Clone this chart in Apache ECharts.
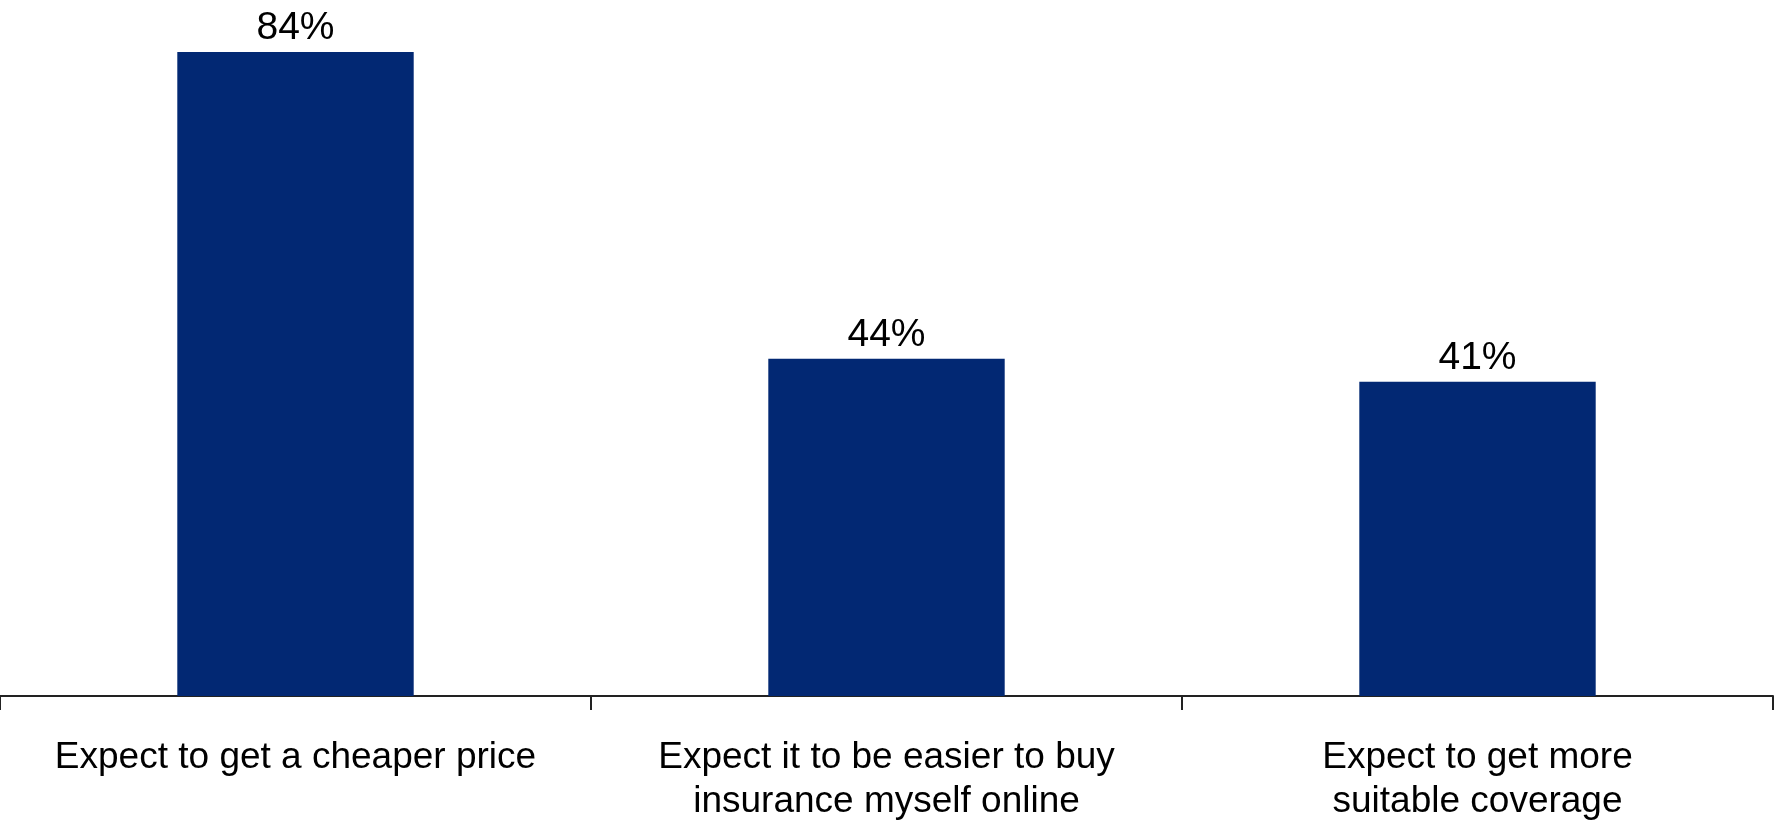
<!DOCTYPE html>
<html>
<head>
<meta charset="utf-8">
<script src="https://cdn.jsdelivr.net/npm/echarts@6/dist/echarts.min.js"></script>
<style>
  html, body { margin: 0; padding: 0; background: #fff; }
  #chart { width: 1775px; height: 822px; }
</style>
</head>
<body>
<div id="chart"></div>
<script>
// reasons for buying insurance online - share of respondents
const categories = [
  'Expect to get a cheaper price',
  'Expect it to be easier to buy\ninsurance myself online',
  'Expect to get more\nsuitable coverage'
];
const values = [84, 44, 41];

const myChart = echarts.init(document.getElementById('chart'));

const option = {
  animation: false,
  textStyle: { fontFamily: 'Liberation Sans, Arial, sans-serif' },
  grid: {
    left: 0,
    right: 2,
    top: 6,
    bottom: 126,
    containLabel: false,
    outerBoundsMode: 'none'
  },
  xAxis: {
    type: 'category',
    data: categories,
    axisLine: { lineStyle: { color: '#222', width: 2 } },
    axisTick: { show: true, length: 14, lineStyle: { color: '#222', width: 2 } },
    axisLabel: {
      color: '#000',
      fontSize: 37,
      lineHeight: 44,
      margin: 40,
      interval: 0
    }
  },
  yAxis: {
    type: 'value',
    min: 0,
    max: 90,
    show: false,
    splitLine: { show: false }
  },
  series: [
    {
      type: 'bar',
      data: values,
      barWidth: '40%',
      itemStyle: { color: '#022873' },
      label: {
        show: true,
        position: 'top',
        distance: 4,
        color: '#000',
        fontSize: 39,
        formatter: '{c}%'
      }
    }
  ]
};

myChart.setOption(option);
</script>
</body>
</html>
